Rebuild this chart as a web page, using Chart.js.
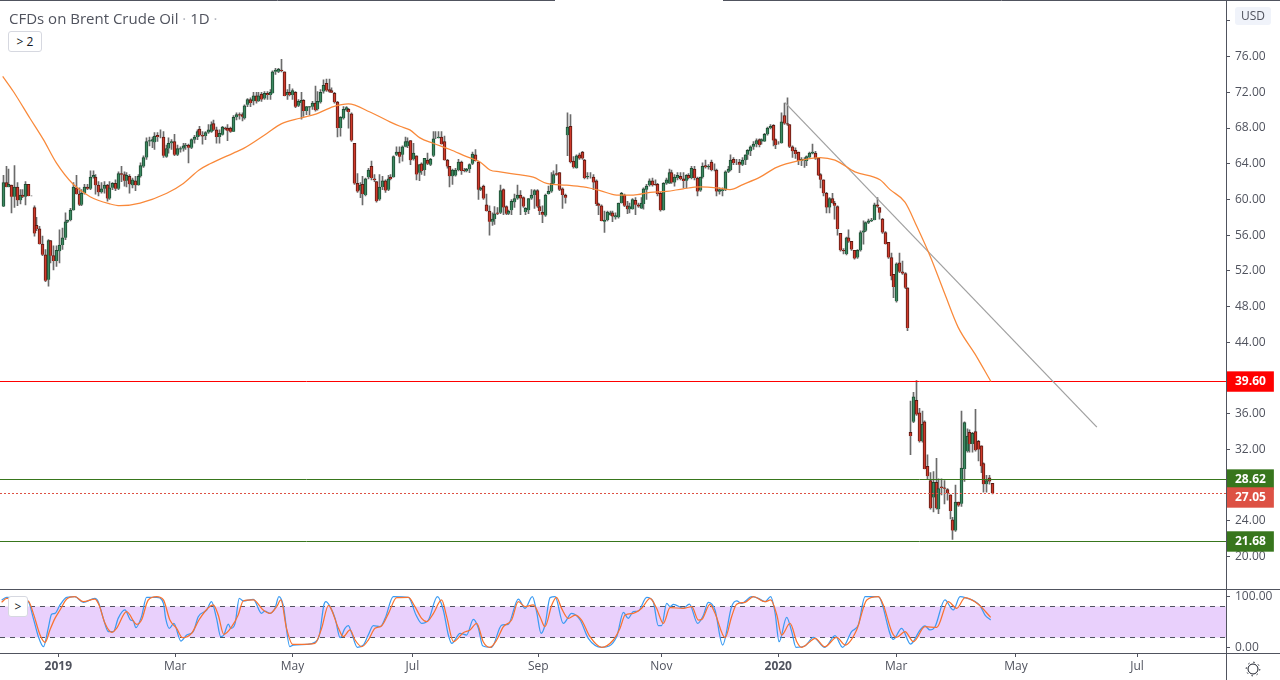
<!DOCTYPE html>
<html>
<head>
<meta charset="utf-8">
<title>CFDs on Brent Crude Oil</title>
<script src="https://cdn.jsdelivr.net/npm/chart.js@4"></script>
<style>
    html, body { margin: 0; padding: 0; background: #fff; }
    #wrap { position: relative; width: 1280px; height: 680px; overflow: hidden; font-family: "Open Sans", sans-serif; color: #50535e; }
    #title { position: absolute; left: 9px; top: 8px; font-size: 15px; line-height: 20px; white-space: nowrap; }
    #title span { color: #b2b5be; }
    .btn { position: absolute; box-sizing: border-box; background: #fff; border: 1px solid #d6d8e0; border-radius: 3px; font-size: 12px; color: #131722; text-align: center; }
    #usd { position: absolute; left: 1235px; top: 7px; width: 36px; height: 18px; background: #f0f3fa; border-radius: 3px; font-size: 12px; line-height: 18px; text-align: center; }
    #gear { position: absolute; left: 1245px; top: 661px; }
</style>
</head>
<body>
<div id="wrap">
    <canvas id="canvas" width="1280" height="680"></canvas>
    <div id="title">CFDs on Brent Crude Oil <span>·</span> 1D <span>·</span></div>
    <div class="btn" style="left:8px;top:31px;width:34px;height:21px;line-height:19px">&gt; 2</div>
    <div class="btn" style="left:8px;top:596px;width:20px;height:21px;line-height:19px">&gt;</div>
    <div id="usd">USD</div>
    <svg id="gear" width="16" height="16" viewBox="0 0 16 16"><circle cx="8" cy="8" r="5" fill="none" stroke="#131722"/><circle cx="8" cy="8" r="6.8" fill="none" stroke="#131722" stroke-dasharray="1.5 3.84"/></svg>
</div>
<script>
//////////////
//
//   DATA
//
//////////////

    var opens = [
        59.2,61.9,61.4,61.6,60.3,61.4,59.9,60.5,60.3,61.7,
        60.4,59.1,57.1,56.7,55.0,53.8,51.0,55.4,53.7,53.1,
        54.2,54.9,55.7,57.5,57.7,58.8,61.3,60.6,59.4,60.7,
        61.4,61.2,62.5,62.5,61.6,60.8,61.2,61.6,60.1,61.3,
        61.8,61.2,62.9,62.8,62.1,62.6,61.6,62.1,61.6,62.6,
        63.7,64.7,66.5,66.5,66.4,67.2,67.0,67.0,64.8,65.7,
        66.3,66.5,65.0,65.6,65.7,66.0,66.1,65.8,66.7,67.0,
        67.9,67.2,67.1,67.5,67.6,68.5,67.8,67.0,67.3,68.0,
        68.0,68.0,67.6,69.2,69.5,69.5,69.1,70.6,71.2,71.0,
        71.6,71.0,71.8,71.3,71.9,71.7,71.9,74.3,74.3,74.5,
        74.3,71.7,72.0,71.7,72.0,70.5,70.8,71.1,69.9,70.3,
        70.4,70.8,70.1,70.9,72.1,73.0,72.3,72.2,71.9,70.9,
        68.0,69.1,70.0,70.1,69.6,66.3,61.8,61.0,61.7,60.5,
        62.5,63.7,62.3,62.0,60.0,61.4,62.1,61.1,62.5,62.5,
        65.0,65.3,65.0,65.9,66.0,66.6,64.5,64.9,63.0,64.0,
        63.3,64.4,63.9,64.9,66.9,66.9,67.0,66.5,64.4,63.7,
        62.6,62.7,63.3,64.2,63.3,63.2,63.4,64.0,65.0,64.2,
        61.1,61.5,59.4,58.7,57.5,57.8,58.5,58.5,61.1,59.2,
        58.4,58.8,59.7,60.1,60.5,60.2,58.6,58.8,60.1,60.5,
        61.0,59.2,58.6,58.2,60.6,60.9,61.8,62.9,63.0,61.2,
        60.5,67.2,68.2,64.3,63.5,65.0,65.3,64.4,62.5,62.6,
        62.5,62.1,59.5,59.3,57.5,57.7,58.3,58.5,58.0,58.0,
        59.6,60.5,59.3,58.9,58.9,59.9,59.4,59.0,59.5,61.1,
        61.6,62.1,61.7,61.7,60.7,58.8,61.8,61.8,63.0,61.9,
        62.4,62.6,62.3,62.1,62.7,62.4,63.4,62.4,61.0,62.5,
        63.8,63.6,64.2,63.3,63.3,60.9,61.0,61.1,63.1,63.3,
        64.5,64.2,64.2,63.9,64.4,65.0,65.4,65.9,66.2,66.7,
        66.5,66.5,67.3,68.0,68.3,66.7,66.3,66.3,69.4,68.5,
        68.4,65.9,65.5,65.3,64.3,64.4,64.3,64.7,65.2,65.2,
        64.6,62.8,62.2,60.7,59.1,60.1,59.6,59.2,56.2,54.3,
        53.9,55.7,55.3,54.3,53.5,54.3,56.3,56.5,57.4,57.6,
        57.7,59.4,59.1,57.8,56.3,55.2,53.5,51.6,48.6,52.9,
        51.9,51.7,50.1,33.9,35.1,37.5,36.1,32.9,35.1,30.1,
        28.5,26.6,28.3,25.3,27.8,27.7,27.5,26.9,24.1,22.9,
        26.1,25.9,29.8,31.8,33.9,32.6,34.0,32.9,32.4,30.4,28.1,28.8,28.2
    ];
    var highs = [
        62.7,63.7,63.4,61.6,63.8,61.9,61.1,61.1,62.0,61.7,
        60.4,59.3,58.0,57.0,55.9,54.4,55.5,55.4,54.8,54.8,
        56.6,56.8,58.5,57.7,59.0,61.9,62.7,61.3,61.1,61.7,
        61.7,63.2,63.2,62.8,62.0,61.9,62.0,61.7,62.0,61.9,
        62.2,63.1,63.7,63.1,63.0,62.8,62.4,62.6,62.8,64.1,
        64.9,66.9,67.0,67.0,67.5,67.5,67.8,67.6,66.1,66.9,
        66.7,67.3,66.1,65.9,66.3,66.3,66.2,66.8,67.2,67.8,
        68.2,67.6,67.6,68.4,68.7,68.9,68.1,67.8,68.2,68.1,
        68.4,68.1,69.4,69.7,69.7,69.7,70.6,71.3,71.4,72.0,
        72.0,72.0,72.0,72.1,72.1,72.3,74.4,74.7,74.7,75.7,
        74.3,72.3,72.9,72.4,72.1,71.2,72.0,71.2,70.4,70.4,
        71.0,72.7,72.1,72.3,73.4,73.5,73.5,72.5,72.0,71.0,
        69.3,70.4,70.4,70.2,69.7,66.3,62.9,61.9,62.6,62.4,
        63.5,64.3,62.8,62.0,62.8,62.6,62.2,62.7,62.8,64.9,
        65.9,65.9,66.0,67.0,66.9,66.6,66.3,64.9,63.9,64.1,
        64.6,65.2,64.6,67.6,67.6,67.6,67.6,67.1,64.5,63.7,
        63.4,63.5,64.5,64.3,63.5,63.5,64.0,65.3,65.6,64.3,
        61.4,61.6,60.6,59.3,58.5,59.2,59.1,61.6,61.2,59.3,
        58.8,60.0,60.6,61.6,61.0,60.3,59.1,60.1,61.1,61.1,
        61.1,60.0,59.3,60.6,61.5,63.0,63.2,63.9,63.0,61.3,
        60.6,69.7,69.5,64.8,65.0,65.2,65.4,64.5,63.0,63.0,
        62.8,62.2,59.6,59.4,58.7,58.7,58.7,58.7,58.5,59.6,
        60.8,60.6,59.8,59.6,60.1,60.2,59.6,60.2,61.3,61.7,
        62.3,62.4,62.2,61.8,60.8,61.9,62.4,63.4,63.3,62.8,
        63.0,63.0,63.0,62.8,62.9,63.7,63.7,62.5,62.5,64.1,
        64.4,63.9,64.4,64.0,63.4,61.3,61.3,63.2,63.7,65.0,
        64.7,64.5,64.5,64.7,65.0,65.6,66.0,66.5,66.8,66.8,
        66.8,67.4,68.1,68.4,68.4,66.8,66.5,69.7,70.8,71.4,
        68.4,66.0,65.8,65.3,64.7,64.7,64.9,65.3,66.2,65.4,
        64.6,62.9,62.2,60.8,60.2,60.7,59.8,59.3,56.2,54.5,
        55.8,56.6,55.3,54.3,54.4,56.5,57.6,57.5,57.8,57.9,
        59.6,60.2,59.1,57.9,56.4,55.2,54.0,51.6,52.9,54.0,
        53.1,51.8,50.1,37.4,38.4,39.7,36.6,36.3,35.2,31.4,
        29.4,29.5,31.0,28.7,28.7,28.5,27.6,26.9,24.4,28.0,
        26.1,36.3,35.1,34.3,34.2,33.9,36.5,33.0,32.4,30.5,29.1,29.1,28.2
    ];
    var lows = [
        59.2,61.4,61.4,58.5,59.1,59.3,59.5,60.2,59.4,60.4,
        60.4,55.9,56.5,55.0,53.7,50.8,50.3,52.9,52.1,52.5,
        52.9,54.4,55.5,57.4,57.6,58.8,60.6,59.3,59.3,60.6,
        61.1,61.1,62.4,60.6,60.4,60.7,60.7,59.8,60.0,61.1,
        61.0,61.1,62.0,61.5,61.4,60.7,61.3,61.0,61.6,62.5,
        63.6,64.5,66.0,65.8,65.6,66.5,66.9,64.7,64.7,65.2,
        65.6,64.9,64.9,65.3,65.4,65.6,64.1,65.7,66.3,66.7,
        67.1,66.2,66.7,67.4,67.5,67.7,66.3,66.3,67.2,67.8,
        66.6,67.5,67.6,68.9,69.0,68.8,69.0,70.4,70.4,70.6,
        70.8,71.0,71.0,71.2,71.2,71.2,71.9,74.0,74.2,74.3,
        71.6,71.2,71.6,71.2,70.3,70.4,69.0,69.3,69.5,69.5,
        70.1,69.9,70.0,70.8,71.9,72.1,72.0,72.0,70.8,67.0,
        67.1,69.0,69.9,68.0,66.5,61.7,60.8,60.2,59.4,60.4,
        62.3,62.2,62.0,59.7,59.9,61.1,60.8,61.0,62.2,62.5,
        64.9,64.1,64.3,65.9,65.8,63.9,64.4,62.2,62.1,62.8,
        62.7,63.9,63.8,64.8,66.8,66.9,66.2,64.4,63.5,61.4,
        61.7,62.6,63.2,62.8,63.1,63.1,63.0,63.9,64.3,60.0,
        61.0,60.0,58.7,56.0,57.1,57.2,58.3,58.4,58.3,58.3,
        58.3,58.3,59.1,60.0,58.3,59.1,58.3,58.4,60.0,59.0,
        59.1,58.3,57.4,58.1,60.6,60.8,61.7,62.7,61.0,59.0,
        59.6,64.9,64.1,63.5,63.5,64.5,64.5,62.3,62.3,62.4,
        61.1,59.3,58.3,57.6,56.3,57.6,58.2,57.5,57.8,57.9,
        59.6,59.2,58.4,58.5,58.9,58.3,59.1,59.0,58.9,60.0,
        61.5,61.5,61.6,60.4,58.7,58.8,61.7,61.8,61.8,61.5,
        62.2,62.2,61.3,61.3,62.3,62.3,62.2,60.4,60.9,62.4,
        63.5,63.4,63.2,63.2,60.4,60.6,60.4,61.0,63.0,63.2,
        63.9,63.9,63.0,63.8,63.9,64.5,64.9,65.6,65.9,65.9,
        66.2,66.5,67.2,67.9,66.0,65.7,66.2,66.3,68.4,68.3,
        65.8,64.7,64.6,63.9,63.8,63.6,63.8,64.7,65.1,64.5,
        62.7,61.3,60.4,58.5,58.5,59.6,57.8,56.0,54.2,53.9,
        53.8,55.2,54.3,53.3,53.4,54.2,55.0,56.4,57.3,57.5,
        57.7,59.1,57.8,56.2,55.0,53.4,51.0,49.0,48.5,51.8,
        51.6,50.0,45.3,31.4,35.0,35.8,32.8,32.8,29.8,28.6,
        25.3,25.0,25.3,24.8,26.9,25.9,26.3,24.2,21.9,22.8,
        25.6,25.6,28.4,31.7,31.7,31.7,31.8,30.7,29.4,27.2,27.2,28.1,27.0
    ];
    var closes = [
        61.9,61.4,61.7,60.3,61.4,59.9,60.5,60.3,61.7,60.4,
        60.4,56.2,56.7,55.0,53.8,50.9,55.4,53.7,53.1,54.3,
        54.9,55.7,57.5,57.7,58.8,61.4,60.6,59.4,60.7,61.4,
        61.2,62.5,62.7,61.6,60.8,61.2,61.6,60.1,61.3,61.8,
        61.2,62.9,62.8,62.1,62.7,61.7,62.2,61.6,62.6,63.8,
        64.7,66.5,66.6,66.7,67.1,67.0,67.0,64.9,65.7,66.3,
        66.5,65.0,65.7,65.7,66.0,66.1,65.8,66.7,67.0,67.6,
        67.2,67.1,67.5,67.8,68.4,67.8,67.0,67.4,68.1,67.9,
        67.7,67.6,69.2,69.5,69.4,69.3,70.5,71.2,70.8,71.6,
        71.0,71.6,71.2,71.9,71.7,72.0,74.3,74.5,74.6,74.4,
        71.6,72.0,71.7,72.2,70.4,71.0,71.1,69.9,70.4,70.4,
        70.8,70.0,71.0,72.0,72.8,72.2,72.1,72.0,70.9,68.0,
        69.2,70.1,70.3,69.8,66.6,61.8,60.9,61.6,60.6,62.3,
        63.3,62.4,62.2,59.8,61.4,62.1,61.0,62.3,62.3,64.8,
        65.3,64.8,65.9,66.5,66.5,64.4,65.2,62.8,63.9,63.2,
        64.6,64.0,64.5,66.8,66.9,67.0,66.2,64.4,63.7,62.6,
        63.3,63.3,64.2,63.2,63.2,63.4,63.9,65.1,64.3,61.1,
        61.3,60.1,58.7,57.5,57.8,58.4,58.4,61.0,59.1,58.4,
        58.7,59.8,60.1,60.5,60.1,59.2,59.0,60.1,60.5,61.0,
        59.2,58.7,58.3,60.5,60.9,61.8,62.8,62.8,61.1,60.5,
        60.2,68.1,64.2,63.6,64.9,64.6,64.6,62.4,62.6,62.6,
        61.9,59.5,59.3,57.6,57.7,58.6,58.5,58.1,58.2,59.6,
        60.7,59.3,58.9,59.2,60.0,59.4,59.2,59.6,61.2,61.5,
        62.1,61.6,61.6,60.6,58.8,61.8,62.2,63.0,61.9,62.5,
        62.7,62.3,62.1,62.7,62.4,63.5,62.4,60.9,62.5,63.7,
        63.6,63.7,63.3,63.3,60.9,61.1,61.1,63.1,63.4,64.4,
        64.1,64.2,63.9,64.4,65.0,65.5,65.9,66.2,66.6,66.1,
        66.7,67.3,68.0,68.2,66.6,66.1,66.3,68.7,68.5,68.4,
        65.9,65.4,65.1,64.3,64.5,64.5,64.8,65.2,65.3,64.6,
        62.7,62.2,60.7,59.1,60.1,59.6,59.3,56.7,54.3,54.2,
        55.7,55.3,54.4,53.4,54.3,56.3,56.5,57.4,57.6,57.7,
        59.4,59.2,58.5,56.3,55.0,53.5,51.4,50.2,52.8,51.9,
        51.7,50.1,45.6,33.5,37.9,35.9,32.9,34.8,29.8,29.0,
        25.4,28.3,25.4,27.6,27.7,27.6,27.1,25.1,22.9,26.1,
        25.7,29.9,35.0,33.5,32.6,33.8,31.9,32.0,30.1,28.1,28.5,28.4,27.1
    ];

    // moving average at its bends
    var maIdx = [0,3.8,9.7,14.5,19.1,25.1,31.1,38.2,41.7,48.9,58.4,64.3,69.9,73.8,82.1,85.6,94,99.3,105.8,111.7,117.7,123,130.7,137.8,141.4,144.9,148.5,153.2,159.2,165.1,169.9,173.4,177,182.9,188.8,193.6,200.7,206.6,212.6,218.5,224.4,230.4,236.3,242.2,248.2,254.1,258.8,263.6,269.5,275.4,283.4,290.9,296.2,303.3,312.2,315.8,321.1,325.3,330,335.3,340,346,351.7];
    var maVal = [73.8,72.1,69.1,66.7,64.1,61.7,60.3,59.5,59.3,59.6,60.7,61.8,63.3,64,65.2,65.7,67.4,68.5,69.1,69.6,70.4,70.7,69.8,68.7,68.2,67.8,66.9,66.3,65.6,64.8,64.2,63.3,63.1,62.8,62.5,61.8,61.6,61.4,61,60.5,60.5,60.8,60.9,61.2,61.4,61.3,61.1,61.7,62.5,63.6,64.35,64.7,64.4,63.1,62.2,61.1,59.7,57,53.7,49.4,45.7,42.7,39.6];

    var kIdx = [-0.4,1.4,9.1,10.9,12.7,14.5,16.2,17.4,18.6,20.4,22.8,25.7,28.7,32.8,34,35.8,37.6,39.4,41.1,43.5,45.5,46.5,47.4,49.4,51.2,54.8,57.2,58,59.3,60.9,63.4,65.5,67.8,69.6,72.6,74.3,76.1,77.6,78.7,80.3,81.2,82.7,84.2,85.6,89.2,92.1,93.3,95.1,96.9,98.3,99.8,102.2,103.4,108.2,111.1,112.7,114.3,115,116.5,118.3,120.1,121.8,123,124.2,126.2,128.4,130.1,131.9,134.3,136.1,139,144.4,147.1,149.1,151.5,154.7,156.8,158.6,159.8,162.8,165.1,167.5,169.3,170.8,174,177.6,179.9,183.5,185.9,188.5,190,191.6,193,194.8,196.6,199.5,202.5,205.5,208.4,213.2,218.5,220.9,222.6,224.4,226.2,229.2,231.5,233.3,234.5,236.3,237.5,238.7,242.2,244.4,247.3,249.4,251.1,253.5,256.2,259.4,261.2,263,266.6,268.9,271.3,273.3,274.9,276.3,279,280.8,282.3,285.5,288.5,292.6,296.2,298.9,302.1,304.5,306.9,311.6,317,319.9,323.1,326.5,328.2,330,331.8,335.3,338.3,340.7,342.5,347.8,349.6,351.6];
    var kVal = [93.5,98.7,90.2,57.2,21,1.2,37.5,65.1,67.1,83.6,98.7,100,88.8,96.7,90.2,57.2,30.9,30.9,57.2,73.7,53.9,51.9,38.8,60.5,98.7,98.7,86.9,57.2,37.5,47.3,12.4,24.3,30.9,60.5,73.7,90.2,57.2,21,24.3,46,37.5,47.3,96.7,91.5,94.8,67.1,71.7,67.1,77,100,83.6,1.2,4.5,5.8,9.8,24.3,83.6,90.2,80.3,57.2,19,37.5,42.7,27.6,0,4.5,24.3,42.7,40.7,57.2,100,98.7,63.8,47.3,53.9,100,73.7,24.3,7.8,27.6,24.3,55.2,37.5,3.2,0,44,45.4,95.4,77,100,70.4,27.6,44,98.1,100,47.3,67.1,53.9,17.7,0,21,69.1,57.2,70.4,71.7,98.7,90.2,42.7,42.7,86.9,80.3,84.9,77,85.5,47.3,63.8,88.8,73.7,4.5,80.3,91.5,86.9,100,96.7,90.2,100,67.1,11.1,59.2,31,0,2.5,19.7,0,23,0,30.9,44,100,100,15.7,37.5,6.5,34.2,42.1,34.2,40.7,93.5,73.7,100,98.1,82.3,63.8,53.9];
    var dIdx = [-0.4,1.4,9.1,10.9,13.3,15.1,16.8,18.6,20.4,22.8,25.7,28.7,32.8,34.3,36.4,38.8,40.5,44.1,47.7,49.4,51.8,54.8,57.2,59.5,61.9,64,67.2,70.2,74.9,76.7,78.7,81.5,83.8,85.6,89.2,92.7,95.1,97.5,99,101,103.2,105.8,111.1,113.5,115.9,116.5,119.5,121.2,123.6,125.4,127.8,130.1,132.5,134.9,137.3,140.2,144.4,146.7,149.1,150.9,153.3,156.2,158,160.4,163.9,166.3,168.7,171,173.4,175.8,178.2,181.1,183.5,185.9,188.8,191.2,193,195.4,197.1,198.9,201.3,203.7,206,209,213.2,217.3,219.7,221.5,224.4,227.4,230.4,232.7,235.1,237.5,242.2,245.2,247.6,248.8,251.7,253.5,257.1,259.4,261.2,264.2,267.2,271.3,273.3,275.5,277.2,280.2,282.6,284.3,287.3,289.1,292.6,296.8,299.8,303.9,307.5,311.6,313.4,316.4,318.1,321.1,324.1,328.2,332.4,336.5,339.5,342.5,347.2,351.6];
    var dVal = [88.8,96.7,91.5,67.1,24.3,9.8,34.2,57.2,73.7,95.4,100,90.2,95.4,83.6,47.3,29.5,37.5,70.4,45.4,53.9,93.5,100,93.5,53.9,37.5,19,27.6,57.2,83.6,63.8,25.6,40.7,63.8,91.5,93.5,73.7,67.1,80.3,93.5,37.5,5.8,5.8,7.8,37.5,82.3,80.3,37.5,21,34.2,14.4,1.2,14.4,37.5,42.7,67.1,98.1,98.7,80.3,57.2,50.6,67.1,93.5,60.5,11.1,28.9,34.2,47.3,11.1,0,14.4,40.7,53.9,90.2,80.3,83.6,60.5,40.7,83.6,98.7,77,57.2,63.8,53.9,21,0,14.4,37.5,63.8,67.1,77,96.7,77,47.3,78.3,77,80.3,53.9,55.2,84.9,67.1,19,60.5,84.9,88.8,100,90.2,93.5,63.8,24.3,47.3,11.1,0,11.1,17.7,1.2,19.7,4.5,34.2,93.5,100,83.6,30.9,19.7,30.9,11.1,40.7,39.4,90.2,77,98.1,84.9,59.2];

    var xTickIdx = [19.8,61.4,103.1,145.8,190.6,234.4,276,318,360.6,403.7];
    var xTickLabels = ["2019","Mar","May","Jul","Sep","Nov","2020","Mar","May","Jul"];
    var priceTicks = [80,76,72,68,64,60,56,52,48,44,36,32,24,20];
    var levelValues = [39.6,28.62,27.05,21.68];
    var levelLabelAt = [39.6,28.62,26.61,21.68];   // the 27.05 tag is pushed down off the 28.62 tag
    var levelColors = ["#ff0000","#38761d","#dd5144","#38761d"];
    var stochTicks = [100,0];
    var trendIdx = [278.4,389.4];
    var trendVal = [70.85,34.5];

////////////////
//
//   CHART
//
////////////////

    var xMin = -0.96, xMax = 435.35;
    var textColor = "#50535e";
    var frameColor = "#50535e";

    function pts(xs, ys) {
        return xs.map(function(x, i) { return {x: x, y: ys[i]}; });
    }
    function flat(y) {
        return [{x: xMin, y: y}, {x: xMax, y: y}];
    }
    function levelOf(c) {
        return c.tick ? levelLabelAt.indexOf(c.tick.value) : -1;
    }

    var wicks = opens.map(function(o, i) { return {x: i, y: [lows[i], highs[i]]}; });
    var bodies = opens.map(function(o, i) { return {x: i, y: [o, closes[i]]}; });
    var fills = opens.map(function(o, i) { return closes[i] >= o ? "#3c8a62" : "#cf3a2b"; });
    var edges = opens.map(function(o, i) { return closes[i] >= o ? "#1d4a30" : "#5a1a12"; });

    function line(data, color, width, axis, order, dash) {
        return {
            type: 'line', data: data, borderColor: color, borderWidth: width,
            pointRadius: 0, cubicInterpolationMode: 'monotone', yAxisID: axis, order: order, borderDash: dash || []
        };
    }
    function level(y, color, axis, order, dash) {
        return Object.assign(line(flat(y), color, 1, axis, order, dash), {snapRow: true, cubicInterpolationMode: 'default', tension: 0});
    }

    var trend = Object.assign(line(pts(trendIdx, trendVal), "#a0a0a0", 1.25, 'price', 6), {cubicInterpolationMode: 'default', tension: 0});

    var datasets = [
        line(pts(kIdx, kVal), "#3b9bf2", 1.25, 'stoch', 2),
        line(pts(dIdx, dVal), "#f9722f", 1.25, 'stoch', 1),
        level(80, "#50535e", 'stoch', 3, [5, 5]),
        Object.assign(level(20, "#50535e", 'stoch', 4, [5, 5]), {fill: '-1', backgroundColor: "#e9d0fc"}),
        line(pts(maIdx, maVal), "#f9893a", 1.25, 'price', 5),
        trend,
        level(39.6, "#ff0000", 'price', 7),
        level(28.62, "#38761d", 'price', 8),
        level(21.68, "#38761d", 'price', 9),
        level(27.05, "#dd5144", 'price', 10, [2, 2]),
        {
            type: 'bar', data: bodies, backgroundColor: fills, borderColor: edges, borderWidth: 1,
            barThickness: 3, grouped: false, yAxisID: 'price', order: 11
        },
        {
            type: 'bar', data: wicks, backgroundColor: "#6b6b6b", borderWidth: 0,
            barThickness: 1, grouped: false, yAxisID: 'price', order: 12
        }
    ];

    // candles and level lines sit on whole pixels in the picture, so snap them after layout
    var snapMarks = {
        id: 'snapMarks',
        afterDatasetsUpdate: function(chart) {
            chart.getSortedVisibleDatasetMetas().forEach(function(meta) {
                if (meta.type === 'bar') {
                    meta.data.forEach(function(el) { el.x = Math.round(el.x) + 0.5; });
                } else if (chart.data.datasets[meta.index].snapRow) {
                    meta.data.forEach(function(el) { el.y = Math.floor(el.y) + 0.5; });
                }
            });
        }
    };

    // pane separators and the frame of the price axis
    var frame = {
        id: 'frame',
        afterDraw: function(chart) {
            var c = chart.ctx;
            c.save();
            c.strokeStyle = frameColor;
            c.lineWidth = 1;
            c.beginPath();
            c.moveTo(1226.5, 0); c.lineTo(1226.5, 680);
            c.moveTo(0, 589.5); c.lineTo(1280, 589.5);
            c.moveTo(0, 653.5); c.lineTo(1280, 653.5);
            c.moveTo(0, 0.5); c.lineTo(555, 0.5);
            c.moveTo(723, 0.5); c.lineTo(1280, 0.5);
            c.stroke();
            c.restore();
        }
    };

    function noPadding(s) {
        s.paddingTop = 0; s.paddingBottom = 0; s.paddingLeft = 0; s.paddingRight = 0;
    }

    window.onload = function() {
        var ctx = document.getElementById("canvas").getContext("2d");
        window.myChart = new Chart(ctx, {
            data: {datasets: datasets},
            plugins: [snapMarks, frame],
            options: {
                responsive: false,
                animation: false,
                layout: {padding: 0},
                plugins: {legend: {display: false}, tooltip: {enabled: false}, title: {display: false}},
                scales: {
                    x: {
                        type: 'linear', min: xMin, max: xMax, offset: false,
                        afterBuildTicks: function(s) { s.ticks = xTickIdx.map(function(v) { return {value: v}; }); },
                        afterFit: function(s) { s.height = 27; noPadding(s); },
                        border: {display: false},
                        grid: {offset: false, drawOnChartArea: false, tickLength: 4, tickColor: frameColor},
                        ticks: {
                            autoSkip: false, maxRotation: 0, padding: 2,
                            font: function(c) {
                                var year = xTickLabels[c.index] && xTickLabels[c.index].length === 4;
                                return {family: '"Open Sans", sans-serif', size: 12, weight: year ? 'bold' : 'normal'};
                            },
                            color: textColor,
                            callback: function(v, i) { return xTickLabels[i]; }
                        }
                    },
                    price: {
                        type: 'linear', position: 'right', stack: 'panes', stackWeight: 589.5, min: 16.3, max: 82.35,
                        afterBuildTicks: function(s) {
                            s.ticks = priceTicks.concat(levelLabelAt).map(function(v) { return {value: v}; });
                        },
                        afterFit: function(s) { s.width = 54; noPadding(s); },
                        border: {display: false},
                        grid: {
                            drawOnChartArea: false, tickLength: 4,
                            tickColor: function(c) { return levelOf(c) >= 0 ? "transparent" : frameColor; }
                        },
                        ticks: {
                            autoSkip: false, padding: 5,
                            callback: function(v) {
                                var i = levelLabelAt.indexOf(v);
                                if (i >= 0) return levelValues[i].toFixed(2);
                                return v === 80 ? "" : v.toFixed(2);
                            },
                            font: function(c) {
                                return {family: '"Open Sans", sans-serif', size: 12, weight: levelOf(c) >= 0 ? 'bold' : 'normal'};
                            },
                            color: function(c) { return levelOf(c) >= 0 ? "#ffffff" : textColor; },
                            showLabelBackdrop: function(c) { return levelOf(c) >= 0; },
                            backdropColor: function(c) { return levelColors[levelOf(c)] || "transparent"; },
                            backdropPadding: {x: 8, y: 3}
                        }
                    },
                    stoch: {
                        type: 'linear', position: 'right', stack: 'panes', stackWeight: 63.5, min: -11.26, max: 114.2,
                        afterBuildTicks: function(s) { s.ticks = stochTicks.map(function(v) { return {value: v}; }); },
                        afterFit: function(s) { s.width = 54; noPadding(s); },
                        border: {display: false},
                        grid: {drawOnChartArea: false, tickLength: 4, tickColor: frameColor},
                        ticks: {
                            autoSkip: false, padding: 5, color: textColor,
                            font: {family: '"Open Sans", sans-serif', size: 12},
                            callback: function(v) { return v.toFixed(2); }
                        }
                    }
                }
            }
        });
    };
</script>
</body>
</html>
